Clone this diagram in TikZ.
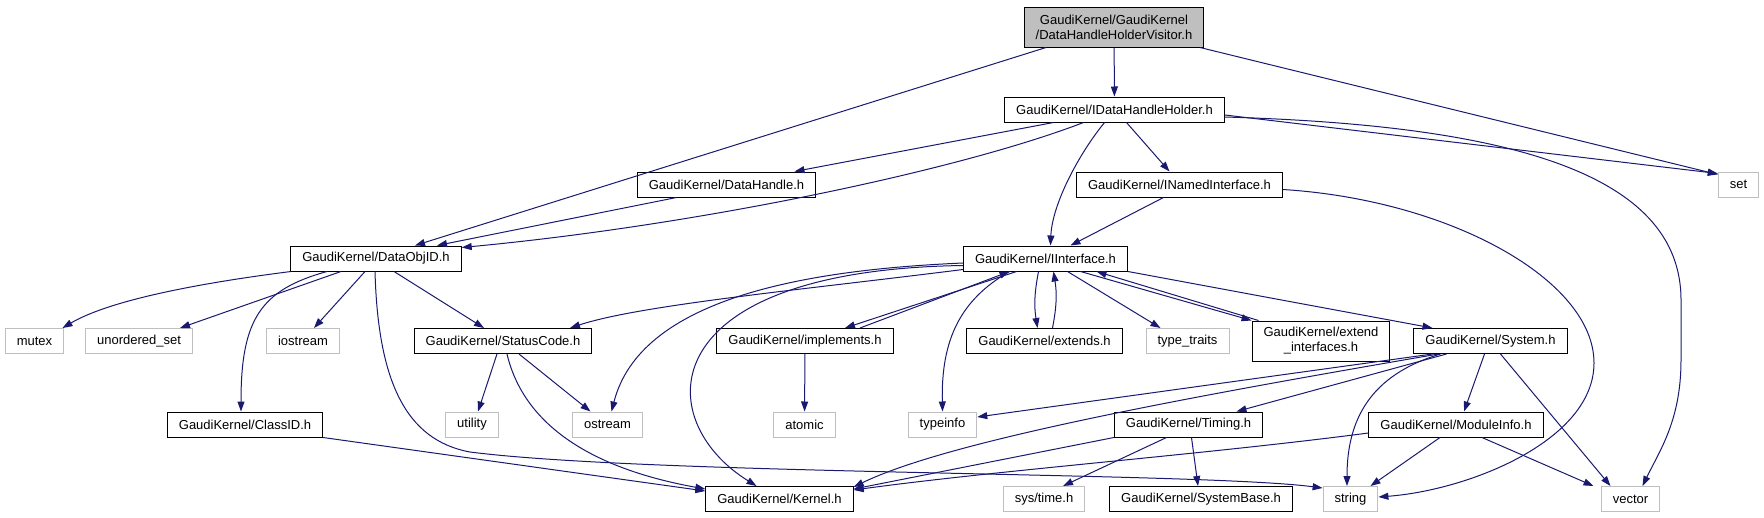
\documentclass[tikz,border=0pt]{standalone}
\usepackage{fontspec}
\setmainfont{Liberation Sans}
\usetikzlibrary{arrows.meta}
\definecolor{edgeblue}{HTML}{191970}
\definecolor{stdgray}{HTML}{BFBFBF}

\begin{document}
\begin{tikzpicture}[x=1pt, y=-1pt,
      every node/.style={font=\fontsize{13}{15}\selectfont, inner xsep=11.5pt,
        inner ysep=0pt, minimum height=25pt, line width=1pt},
      hdr/.style={draw=black},
      stdhdr/.style={draw=stdgray},
      roothdr/.style={draw=black, fill=stdgray, align=center, minimum height=40pt},
      inc/.style={draw=edgeblue, line width=1pt, -{Triangle[length=10pt,width=7pt]}}]
    \useasboundingbox (0,0) rectangle (1764,517);
    % Root: the visitor header
    \node[roothdr] (root) at (1114,27) {GaudiKernel/GaudiKernel\\/DataHandleHolderVisitor.h};
    \node[hdr] (IDH) at (1114.5,109.5) {GaudiKernel/IDataHandleHolder.h};
    \node[hdr] (DH) at (726.5,184.5) {GaudiKernel/DataHandle.h};
    \node[hdr] (INI) at (1179.5,184.5) {GaudiKernel/INamedInterface.h};
    \node[stdhdr] (set) at (1738.5,184.5) {set};
    \node[hdr] (DOID) at (376,258.5) {GaudiKernel/DataObjID.h};
    \node[hdr] (IInt) at (1045.5,258.5) {GaudiKernel/IInterface.h};
    % Third row
    \node[stdhdr] (mutex) at (34.5,341) {mutex};
    \node[stdhdr] (uset) at (139,341) {unordered\_set};
    \node[stdhdr] (iostream) at (303,341) {iostream};
    \node[hdr] (SC) at (503,341) {GaudiKernel/StatusCode.h};
    \node[hdr] (impl) at (805,341) {GaudiKernel/implements.h};
    \node[hdr] (ext) at (1044.5,341) {GaudiKernel/extends.h};
    \node[stdhdr] (tt) at (1187.5,341) {type\_traits};
    \node[hdr, align=center, minimum height=40pt] (extif) at (1321,341) {GaudiKernel/extend\\\_interfaces.h};
    \node[hdr] (sys) at (1490.5,341) {GaudiKernel/System.h};
    % Fourth row
    \node[hdr] (CID) at (245,424.5) {GaudiKernel/ClassID.h};
    \node[stdhdr] (utility) at (472,424.5) {utility};
    \node[stdhdr] (ostream) at (607.5,424.5) {ostream};
    \node[stdhdr] (atomic) at (804.5,424.5) {atomic};
    \node[stdhdr] (typeinfo) at (942.5,424.5) {typeinfo};
    \node[hdr] (timing) at (1188.5,424.5) {GaudiKernel/Timing.h};
    \node[hdr] (MI) at (1456,424.5) {GaudiKernel/ModuleInfo.h};
    % Bottom row
    \node[hdr] (kernel) at (779.5,499) {GaudiKernel/Kernel.h};
    \node[stdhdr] (systime) at (1044,499) {sys/time.h};
    \node[hdr] (SB) at (1201,499) {GaudiKernel/SystemBase.h};
    \node[stdhdr] (string) at (1350.5,499) {string};
    \node[stdhdr] (vector) at (1630.5,499) {vector};

    % Includes of the root
    \draw[inc] ([xshift=-68pt]root.south) -- ([xshift=39pt]DOID.north);
    \draw[inc] (root) -- (IDH);
    \draw[inc] ([xshift=86pt]root.south) -- ([yshift=-3pt]set.north west);
    % IDataHandleHolder.h
    \draw[inc] ([xshift=-61pt]IDH.south) -- ([xshift=68pt]DH.north);
    \draw[inc] ([xshift=-31pt]IDH.south) .. controls (960,170) and (700,225) .. ([yshift=-2pt]DOID.north east);
    \draw[inc] ([xshift=-10pt]IDH.south) .. controls (1078,155) and (1052,205) .. ([xshift=5pt]IInt.north);
    \draw[inc] ([xshift=12pt]IDH.south) -- ([xshift=-10pt]INI.north);
    \draw[inc] ([yshift=-5.5pt]IDH.east) -- ([yshift=-2pt]set.north west);
    \draw[inc] ([yshift=-7.5pt]IDH.east) .. controls (1500,125) and (1681,170) .. (1681,300)
      -- (1681,360) .. controls (1681,420) and (1660,450) .. ([xshift=12pt]vector.north);
    \draw[inc] ([xshift=-50pt]DH.south) -- ([xshift=61pt]DOID.north);
    % INamedInterface.h
    \draw[inc] ([xshift=-16pt]INI.south) -- ([xshift=25pt]IInt.north);
    \draw[inc] ([yshift=-5pt]INI.east) .. controls (1450,200) and (1594,280) .. (1594,363)
      .. controls (1594,440) and (1470,490) .. ([yshift=2pt]string.east);
    % DataObjID.h
    \draw[inc] ([xshift=-85pt]DOID.south) .. controls (200,283) and (110,300) .. ([xshift=28pt]mutex.north);
    \draw[inc] ([xshift=-35pt]DOID.south) -- ([xshift=41pt]uset.north);
    \draw[inc] ([xshift=-49pt]DOID.south) .. controls (260,290) and (241,320) .. ([xshift=-4pt]CID.north);
    \draw[inc] ([xshift=-11pt]DOID.south) -- ([xshift=11pt]iostream.north);
    \draw[inc] ([xshift=18pt]DOID.south) -- ([xshift=-19pt]SC.north);
    \draw[inc] ([xshift=-1pt]DOID.south) .. controls (378,380) and (405,440) .. (470,452)
      .. controls (650,475) and (1200,472) .. ([yshift=11pt]string.west);
    % IInterface.h
    \draw[inc] ([yshift=-11pt]IInt.west) .. controls (800,290) and (640,305) .. ([xshift=67pt]SC.north);
    \draw[inc] ([yshift=-4.5pt]IInt.west) .. controls (800,270) and (640,300) .. ([xshift=4pt]ostream.north);
    \draw[inc] ([yshift=-7pt]IInt.west) .. controls (650,270) and (650,420) .. ([xshift=-23pt]kernel.north);
    \draw[inc] ([xshift=-29pt]IInt.south) -- ([xshift=40pt]impl.north);
    \draw[inc] ([xshift=55pt]impl.north) -- ([xshift=-36pt]IInt.south);
    \draw[inc] ([xshift=-36pt]IInt.south) .. controls (960,300) and (941,340) .. (typeinfo.north);
    \draw[inc] ([xshift=-7pt]IInt.south) to[bend right=10] ([xshift=-7pt]ext.north);
    \draw[inc] ([xshift=8pt]ext.north) to[bend right=10] ([xshift=8pt]IInt.south);
    \draw[inc] ([xshift=22pt]IInt.south) -- ([xshift=-27pt]tt.north);
    \draw[inc] ([xshift=35pt]IInt.south) -- (extif.north west);
    \draw[inc] ([xshift=7pt]extif.north west) -- ([xshift=51pt]IInt.south);
    \draw[inc] (IInt.south east) -- ([xshift=-58pt]sys.north);
    % StatusCode.h, ClassID.h, implements.h
    \draw[inc] ([xshift=-6pt]SC.south) -- ([xshift=6pt]utility.north);
    \draw[inc] ([xshift=16pt]SC.south) -- ([xshift=-17pt]ostream.north);
    \draw[inc] ([xshift=4pt]SC.south) .. controls (525,430) and (600,470) .. ([yshift=10pt]kernel.west);
    \draw[inc] (CID.south east) -- ([yshift=8pt]kernel.west);
    \draw[inc] (impl) -- (atomic);
    % System.h
    \draw[inc] ([xshift=-58pt]sys.south) -- ([yshift=7.5pt]typeinfo.east);
    \draw[inc] ([xshift=-52pt]sys.south) .. controls (1200,395) and (950,440) .. ([yshift=-1pt]kernel.north east);
    \draw[inc] ([xshift=-44pt]sys.south) -- ([xshift=48pt]timing.north);
    \draw[inc] ([xshift=-50pt]sys.south) .. controls (1370,375) and (1347,420) .. ([xshift=-3.5pt]string.north);
    \draw[inc] ([xshift=-6pt]sys.south) -- ([xshift=8pt]MI.north);
    \draw[inc] ([xshift=10pt]sys.south) -- ([xshift=-20pt]vector.north);
    % Timing.h
    \draw[inc] (timing.south west) -- ([yshift=-3pt]kernel.north east);
    \draw[inc] ([xshift=-22pt]timing.south) -- ([xshift=19pt]systime.north);
    \draw[inc] ([xshift=3pt]timing.south) -- ([xshift=-3pt]SB.north);
    % ModuleInfo.h
    \draw[inc] ([yshift=-8.5pt]MI.west) .. controls (1200,455) and (1000,470) .. ([yshift=-4pt]kernel.north east);
    \draw[inc] ([xshift=-16pt]MI.south) -- ([xshift=20pt]string.north);
    \draw[inc] ([xshift=26pt]MI.south) -- ([xshift=-37pt]vector.north);
  \end{tikzpicture}
\end{document}
